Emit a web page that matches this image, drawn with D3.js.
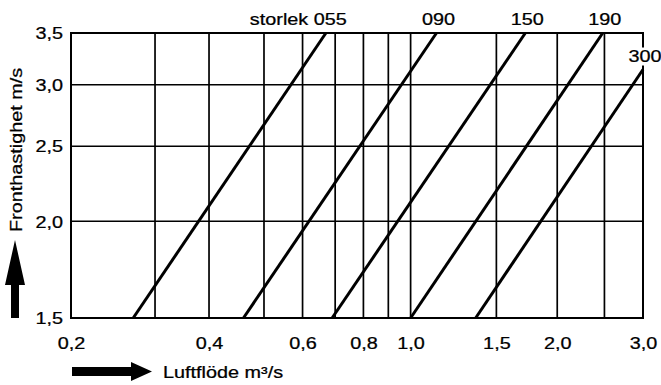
<!DOCTYPE html>
<html>
<head>
<meta charset="utf-8">
<script src="https://cdn.jsdelivr.net/npm/d3@7"></script>
<style>
  html, body { margin: 0; padding: 0; background: #fff; }
  svg { display: block; }
  text { font-family: "Liberation Sans", Arial, Helvetica, sans-serif; fill: #000; stroke: #000; stroke-width: 0.25px; }
</style>
</head>
<body>
<svg id="chart" width="661" height="385"></svg>
<script>
// ---- data ----
const sizes      = ["055", "090", "150", "190", "300"];
const flowLow    = [0.27, 0.46, 0.69, 1.00, 1.36];   // m3/s at 1,5 m/s
const velLow     = [1.5, 1.5, 1.5, 1.5, 1.5];
const flowHigh   = [0.67, 1.13, 1.72, 2.48, 3.0];   // m3/s at upper end
const velHigh    = [3.5, 3.5, 3.5, 3.5, 3.14];
const xTickLabels = [0.2, 0.4, 0.6, 0.8, 1.0, 1.5, 2.0, 3.0];
const xGrid       = [0.3, 0.4, 0.5, 0.6, 0.7, 0.8, 0.9, 1.0, 1.5, 2.0, 2.5, 3.0];
const yTickLabels = [1.5, 2.0, 2.5, 3.0, 3.5];
const xTitle = "Luftflöde m³/s";
const yTitle = "Fronthastighet m/s";
const seriesPrefix = "storlek ";

// ---- layout ----
const L = 71, R = 643, T = 33, B = 318;
const W = R - L;
const SX = 1.24; // horizontal font stretch

const svg = d3.select("#chart");

// log scale (original chart drawn with slightly uneven spacing at 0.3/0.4)
const x = d3.scaleLog()
  .domain([0.2, 0.3, 0.4, 0.5, 3.0])
  .range([L, L + W * 0.1469, L + W * 0.2413, L + W * 0.3374, R]);
const y = d3.scaleLog().domain([1.5, 3.5]).range([B, T]);

const comma = v => d3.format(".1f")(v).replace(".", ",");

// grid
const g = svg.append("g");
g.selectAll("line.vg").data(xGrid).join("line")
  .attr("x1", d => x(d)).attr("x2", d => x(d))
  .attr("y1", T).attr("y2", B)
  .attr("stroke", "#000").attr("stroke-width", 1.7);
g.selectAll("line.hg").data(yTickLabels.filter(v => v > 1.5 && v < 3.5)).join("line")
  .attr("x1", L).attr("x2", R)
  .attr("y1", d => y(d)).attr("y2", d => y(d))
  .attr("stroke", "#000").attr("stroke-width", 1.5);

// frame
g.append("rect").attr("x", L).attr("y", T).attr("width", W).attr("height", B - T)
  .attr("fill", "none").attr("stroke", "#000").attr("stroke-width", 2);

// series lines
const line = d3.line().x(d => x(d[0])).y(d => y(d[1]));
sizes.forEach((s, i) => {
  svg.append("path")
    .attr("d", line([[flowLow[i], velLow[i]], [flowHigh[i], velHigh[i]]]))
    .attr("fill", "none").attr("stroke", "#000").attr("stroke-width", 3)
    .attr("stroke-linecap", "butt");
});

// series labels
sizes.forEach((s, i) => {
  const last = i === sizes.length - 1;
  const px = x(flowHigh[i]);
  const py = last ? y(velHigh[i]) - 8 : 25;
  const lbl = i === 0 ? seriesPrefix + s : s;
  if (last) {
    svg.append("rect").attr("x", px - 16).attr("y", py - 14).attr("width", 34).attr("height", 18)
      .attr("fill", "#fff");
  }
  svg.append("text")
    .attr("transform", `translate(${i === 0 ? px + 21 : px + 2},${py}) scale(${SX},1)`)
    .attr("text-anchor", i === 0 ? "end" : "middle")
    .attr("font-size", 16)
    .text(lbl);
});

// axes
const xAxis = d3.axisBottom(x).tickValues(xTickLabels).tickFormat(comma).tickSize(0).tickPadding(0);
const gx = svg.append("g").attr("transform", `translate(0,${B})`).call(xAxis);
gx.select(".domain").remove();
gx.selectAll(".tick text")
  .attr("y", 0).attr("dy", null)
  .attr("font-size", 16).attr("font-family", null)
  .attr("transform", `translate(0,31) scale(${SX},1)`);

const yAxis = d3.axisLeft(y).tickValues(yTickLabels).tickFormat(comma).tickSize(0).tickPadding(0);
const gy = svg.append("g").attr("transform", `translate(${L},0)`).call(yAxis);
gy.select(".domain").remove();
gy.selectAll(".tick text")
  .attr("x", 0).attr("dy", "0.36em")
  .attr("font-size", 16).attr("font-family", null)
  .attr("transform", `translate(-8,0) scale(${SX},1)`);

// x title and arrow
svg.append("path")
  .attr("d", "M72,367 L131,367 L131,362 L152,371.5 L131,381 L131,376 L72,376 Z")
  .attr("fill", "#000");
svg.append("text")
  .attr("transform", `translate(163,378) scale(${SX},1)`)
  .attr("font-size", 16).text(xTitle);

// y title and arrow
svg.append("path")
  .attr("d", "M11,318 L11,285 L5,285 L15,240 L25,285 L19,285 L19,318 Z")
  .attr("fill", "#000");
svg.append("text")
  .attr("transform", `translate(22,232) rotate(-90) scale(${SX},1)`)
  .attr("font-size", 16).attr("text-anchor", "start").text(yTitle);
</script>
</body>
</html>
